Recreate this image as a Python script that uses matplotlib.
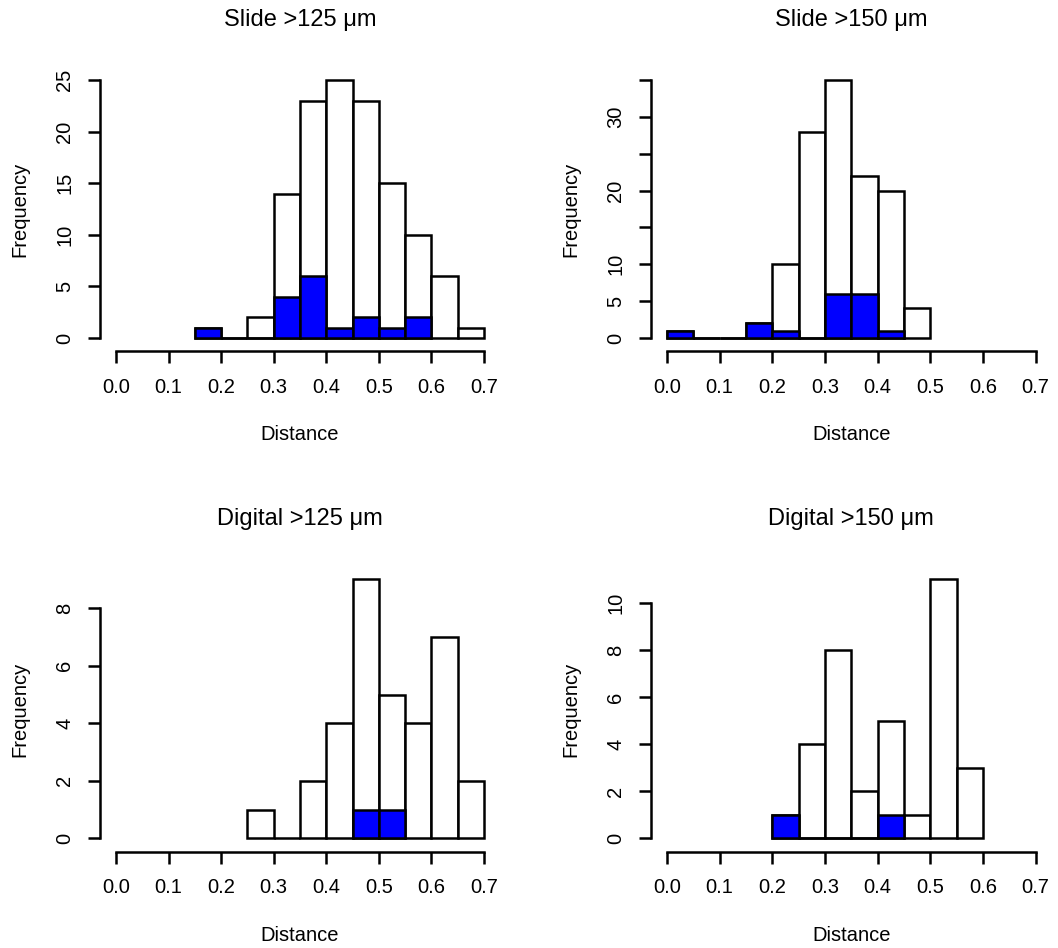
import numpy as np
import matplotlib
matplotlib.use("Agg")
import matplotlib.pyplot as plt

plt.rcParams["font.family"] = ["Liberation Sans", "DejaVu Sans"]

# bin width for all histograms
binWidth = 0.05

# Slide >125 um
slide125Start = 0.15
slide125All = [1, 0, 2, 14, 23, 25, 23, 15, 10, 6, 1]
slide125BlueStart = 0.15
slide125Blue = [1, 0, 0, 4, 6, 1, 2, 1, 2]
slide125Ticks = [0, 5, 10, 15, 20, 25]
slide125Labels = ["0", "5", "10", "15", "20", "25"]

# Slide >150 um
slide150Start = 0.0
slide150All = [1, 0, 0, 2, 10, 28, 35, 22, 20, 4]
slide150BlueStart = 0.0
slide150Blue = [1, 0, 0, 2, 1, 0, 6, 6, 1]
slide150Ticks = [0, 5, 10, 15, 20, 25, 30, 35]
slide150Labels = ["0", "5", "10", "", "20", "", "30", ""]

# Digital >125 um
digital125Start = 0.25
digital125All = [1, 0, 2, 4, 9, 5, 4, 7, 2]
digital125BlueStart = 0.45
digital125Blue = [1, 1]
digital125Ticks = [0, 2, 4, 6, 8]
digital125Labels = ["0", "2", "4", "6", "8"]

# Digital >150 um
digital150Start = 0.2
digital150All = [1, 4, 8, 2, 5, 1, 11, 3]
digital150BlueStart = 0.2
digital150Blue = [1, 0, 0, 0, 1]
digital150Ticks = [0, 2, 4, 6, 8, 10]
digital150Labels = ["0", "2", "4", "6", "8", "10"]

xTicks = [0.0, 0.1, 0.2, 0.3, 0.4, 0.5, 0.6, 0.7]
xTickLabels = ["0.0", "0.1", "0.2", "0.3", "0.4", "0.5", "0.6", "0.7"]

panels = [
    ("Slide >125 μm", slide125Start, slide125All, slide125BlueStart, slide125Blue, slide125Ticks, slide125Labels),
    ("Slide >150 μm", slide150Start, slide150All, slide150BlueStart, slide150Blue, slide150Ticks, slide150Labels),
    ("Digital >125 μm", digital125Start, digital125All, digital125BlueStart, digital125Blue, digital125Ticks, digital125Labels),
    ("Digital >150 μm", digital150Start, digital150All, digital150BlueStart, digital150Blue, digital150Ticks, digital150Labels),
]

# axes boxes in figure fractions (left, bottom, width, height)
boxes = [
    [0.0957, 0.6326, 0.3756, 0.2939],
    [0.6165, 0.6326, 0.3763, 0.2939],
    [0.0957, 0.1047, 0.3756, 0.2950],
    [0.6165, 0.1047, 0.3763, 0.2950],
]

fig = plt.figure(figsize=(10.58, 9.48), dpi=100)
lw = 1.8

for (title, start, allCounts, blueStart, blueCounts, yTicks, yLabels), box in zip(panels, boxes):
    ax = fig.add_axes(box)
    leftEdges = start + binWidth * np.arange(len(allCounts))
    ax.bar(leftEdges, allCounts, width=binWidth, align="edge", color="white",
           edgecolor="black", linewidth=lw)
    blueEdges = blueStart + binWidth * np.arange(len(blueCounts))
    ax.bar(blueEdges, blueCounts, width=binWidth, align="edge", color="#0000FF",
           edgecolor="black", linewidth=lw)

    ymax = max(allCounts)
    ax.set_xlim(-0.028, 0.728)
    ax.set_ylim(-0.04 * ymax, 1.04 * ymax)

    for side in ["top", "right"]:
        ax.spines[side].set_visible(False)
    ax.spines["left"].set_bounds(yTicks[0], yTicks[-1])
    ax.spines["bottom"].set_bounds(0.0, 0.7)
    ax.spines["left"].set_linewidth(lw)
    ax.spines["bottom"].set_linewidth(lw)
    ax.spines["left"].set_position(("outward", 1))
    ax.spines["bottom"].set_position(("outward", 2))

    ax.set_xticks(xTicks)
    ax.set_xticklabels(xTickLabels)
    ax.set_yticks(yTicks)
    ax.set_yticklabels(yLabels)
    ax.tick_params(axis="both", direction="out", length=8.6, width=lw, labelsize=14.5)
    ax.tick_params(axis="x", pad=10.5)
    ax.tick_params(axis="y", pad=10, labelrotation=90)
    for lab in ax.get_yticklabels():
        lab.set_va("center")

    ax.text(0.5, 1.178, title, transform=ax.transAxes, ha="center", va="center", fontsize=17)
    ax.text(0.5, -0.311, "Distance", transform=ax.transAxes, ha="center", va="center", fontsize=14.5)
    ax.text(-0.2046, 0.5, "Frequency", transform=ax.transAxes, ha="center", va="center",
            rotation=90, fontsize=14.5)

fig.savefig("out.png", dpi=100)
